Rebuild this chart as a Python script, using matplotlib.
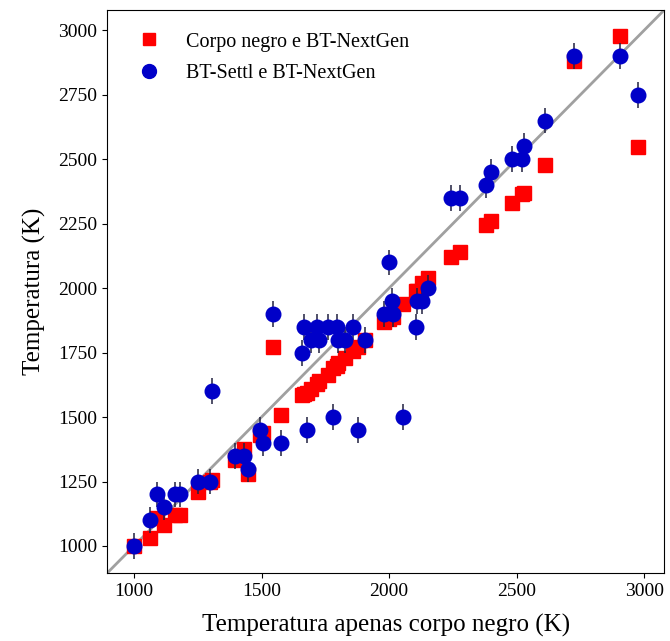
import numpy as np
import matplotlib
matplotlib.use('Agg')
import matplotlib.pyplot as plt
from matplotlib.lines import Line2D

plt.rcParams['font.family'] = ['Liberation Serif', 'DejaVu Serif']

# temperatura obtida apenas com corpo negro (K)
t_bb = [1000, 1062, 1090, 1117, 1160, 1180, 1250, 1300, 1305, 1398,
        1430, 1449, 1495, 1505, 1545, 1575, 1660, 1665, 1678, 1694,
        1717, 1725, 1760, 1780, 1795, 1800, 1826, 1860, 1877, 1905,
        1980, 2000, 2012, 2015, 2053, 2107, 2111, 2131, 2154, 2244,
        2279, 2380, 2400, 2482, 2520, 2528, 2610, 2727, 2905, 2978]

# corpo negro + BT-NextGen
t_bb_ng = [1000, 1030, 1110, 1080, 1120, 1120, 1210, 1250, 1255, 1335,
           1375, 1280, 1430, 1440, 1770, 1510, 1585, 1590, 1595, 1610,
           1630, 1640, 1665, 1690, 1700, 1710, 1730, 1755, 1770, 1800,
           1870, 1880, 1900, 1890, 1940, 1990, 1990, 2020, 2040, 2120,
           2140, 2245, 2260, 2330, 2365, 2370, 2477, 2880, 2978, 2547]

# BT-Settl + BT-NextGen
t_settl_ng = [1000, 1100, 1200, 1150, 1200, 1200, 1250, 1250, 1600, 1350,
              1350, 1300, 1450, 1400, 1900, 1400, 1750, 1850, 1450, 1800,
              1850, 1800, 1850, 1500, 1850, 1800, 1800, 1850, 1450, 1800,
              1900, 2100, 1950, 1900, 1500, 1850, 1950, 1950, 2000, 2350,
              2350, 2400, 2450, 2500, 2500, 2550, 2650, 2900, 2900, 2750]
err_settl = 50

fig = plt.figure(figsize=(6.7, 6.41), dpi=100)
ax = fig.add_axes([0.16, 0.106, 0.831, 0.878])

lims = [895, 3078]
ax.plot([850, 3100], [850, 3100], color='#a0a0a0', lw=2, zorder=1)

ax.plot(t_bb, t_bb_ng, 's', color='#ff0000', ms=9.5, mec='#ff0000', zorder=2)
ax.errorbar(t_bb, t_settl_ng, yerr=err_settl, fmt='o', color='#0000c8',
            ms=10.5, ecolor='#202040', elinewidth=1.1, capsize=0, zorder=3)

ax.set_xlim(lims)
ax.set_ylim(lims)
ax.set_xticks([1000, 1500, 2000, 2500, 3000])
ax.set_yticks([1000, 1250, 1500, 1750, 2000, 2250, 2500, 2750, 3000])
ax.tick_params(labelsize=14)
ax.set_xlabel('Temperatura apenas corpo negro (K)', fontsize=18, labelpad=10)
ax.set_ylabel('Temperatura (K)', fontsize=18, labelpad=9)

handles = [Line2D([], [], ls='', marker='s', color='#ff0000', ms=9),
           Line2D([], [], ls='', marker='o', color='#0000c8', ms=10)]
ax.legend(handles, ['Corpo negro e BT-NextGen', 'BT-Settl e BT-NextGen'],
          loc='upper left', frameon=False, fontsize=14.5, borderpad=0.6,
          handletextpad=0.8, labelspacing=0.62)

plt.savefig('out.png', dpi=100)
